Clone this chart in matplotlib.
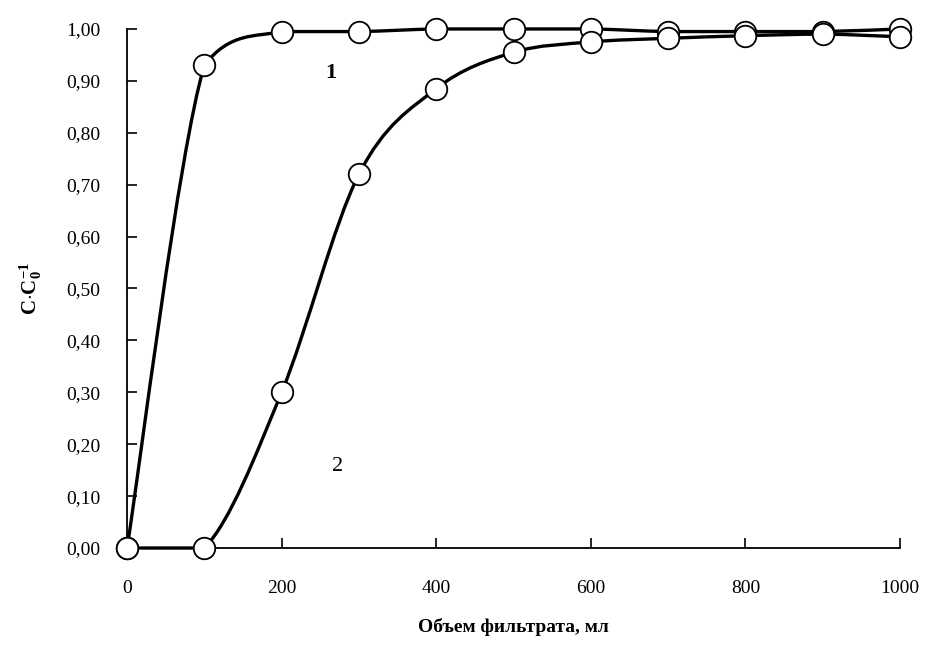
import numpy as np
import matplotlib
matplotlib.use("Agg")
import matplotlib.pyplot as plt
from matplotlib.path import Path
from matplotlib.patches import PathPatch

volume = [0, 100, 200, 300, 400, 500, 600, 700, 800, 900, 1000]
series1 = [0.0, 0.93, 0.995, 0.995, 1.0, 1.0, 1.0, 0.995, 0.995, 0.995, 1.0]
series2 = [0.0, 0.0, 0.30, 0.72, 0.885, 0.955, 0.975, 0.982, 0.987, 0.99, 0.985]
xticks = [0, 200, 400, 600, 800, 1000]
yticks = [0.0, 0.1, 0.2, 0.3, 0.4, 0.5, 0.6, 0.7, 0.8, 0.9, 1.0]

plt.rcParams['font.family'] = ['Liberation Serif', 'DejaVu Serif']
plt.rcParams['mathtext.fontset'] = 'custom'
plt.rcParams['mathtext.rm'] = 'Liberation Serif'
plt.rcParams['mathtext.bf'] = 'Liberation Serif:bold'

fig = plt.figure(figsize=(9.28, 6.51), dpi=100)
ax = fig.add_axes([0.1369, 0.1582, 0.9698 - 0.1369, 0.9555 - 0.1582])


def smooth_path(xs, ys):
    xs = np.asarray(xs, float)
    ys = np.asarray(ys, float)
    n = len(xs)
    verts = [(xs[0], ys[0])]
    codes = [Path.MOVETO]
    for i in range(n - 1):
        i0 = max(i - 1, 0)
        i3 = min(i + 2, n - 1)
        lo, hi = min(ys[i], ys[i + 1]), max(ys[i], ys[i + 1])
        c1 = (xs[i] + (xs[i + 1] - xs[i0]) / 6,
              float(np.clip(ys[i] + (ys[i + 1] - ys[i0]) / 6, lo, hi)))
        c2 = (xs[i + 1] - (xs[i3] - xs[i]) / 6,
              float(np.clip(ys[i + 1] - (ys[i3] - ys[i]) / 6, lo, hi)))
        verts += [c1, c2, (xs[i + 1], ys[i + 1])]
        codes += [Path.CURVE4] * 3
    return Path(verts, codes)


for ys in (series1, series2):
    patch = PathPatch(smooth_path(volume, ys), facecolor='none', edgecolor='black',
                      lw=2.4, clip_on=False, zorder=2, capstyle='round', joinstyle='round')
    ax.add_patch(patch)
    ax.plot(volume, ys, linestyle='none', marker='o', markersize=15.5,
            markerfacecolor='white', markeredgecolor='black', markeredgewidth=1.3,
            clip_on=False, zorder=3)

ax.text(263, 0.915, '1', fontsize=16, fontweight='bold', ha='center', va='center')
ax.text(272, 0.158, '2', fontsize=16, ha='center', va='center')

ax.set_xlim(0, 1000)
ax.set_ylim(0, 1.0)
ax.set_xticks(xticks)
ax.set_yticks(yticks)
ax.set_xticklabels([str(v) for v in xticks], fontsize=14)
ax.set_yticklabels([f"{v:.2f}".replace('.', ',') for v in yticks], fontsize=14)
ax.tick_params(axis='both', direction='in', length=7, width=1.2)
ax.tick_params(axis='x', pad=23)
ax.tick_params(axis='y', pad=19)
for s in ('top', 'right'):
    ax.spines[s].set_visible(False)
for s in ('left', 'bottom'):
    ax.spines[s].set_linewidth(1.3)

ax.set_xlabel('Объем фильтрата, мл', fontsize=14, fontweight='bold', labelpad=15)
ax.set_ylabel(r'$\mathbf{C{\cdot}C_0^{-1}}$', fontsize=15, labelpad=16)

fig.savefig('out.png', dpi=100)
